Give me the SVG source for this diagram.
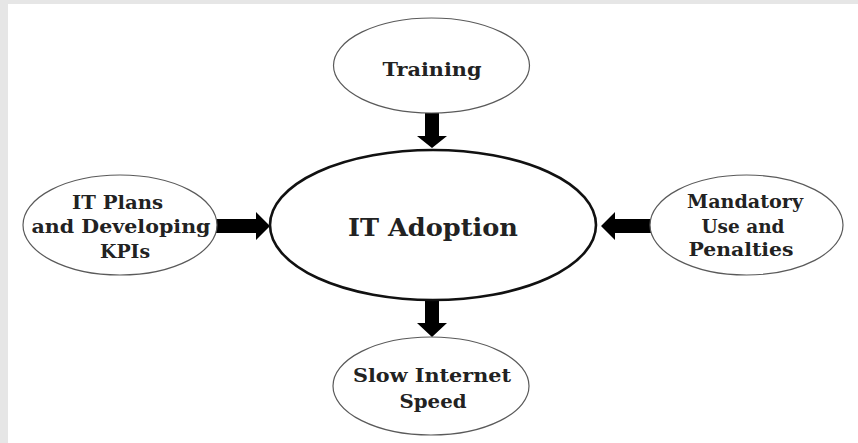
<svg xmlns="http://www.w3.org/2000/svg" width="858" height="443" viewBox="0 0 858 443">
  <style>
    .node-outer { fill: #ffffff; stroke: #5a5a5a; stroke-width: 1.2; }
    .node-main { fill: #ffffff; stroke: #111111; stroke-width: 2.6; }
    .label { font-family: "DejaVu Serif", "Liberation Serif", serif; font-weight: bold; fill: #222222; text-anchor: middle; }
    .small { font-size: 19px; }
    .big { font-size: 25px; }
    .arrow { fill: #000000; }
  </style>

  <!-- page frame -->
  <rect x="0" y="0" width="858" height="443" fill="#e6e6e6"/>
  <rect x="8" y="4" width="850" height="439" fill="#ffffff"/>

  <!-- block arrows -->
  <g id="connectors">
    <polygon class="arrow" points="425,113 439,113 439,136 447,136 432,148 417,136 425,136"/>
    <polygon class="arrow" points="216,219 256,219 256,212 270,226 256,240 256,233 216,233"/>
    <polygon class="arrow" points="651,219 615,219 615,212 601,226 615,240 615,233 651,233"/>
    <polygon class="arrow" points="425,300 439,300 439,323 447,323 432,337 417,323 425,323"/>
  </g>

  <g id="training">
    <ellipse class="node-outer" cx="431.5" cy="65.5" rx="98" ry="47.5"/>
    <text class="label small" x="432" y="76" textLength="99" lengthAdjust="spacingAndGlyphs">Training</text>
  </g>

  <g id="it-adoption">
    <ellipse class="node-main" cx="433" cy="225" rx="163" ry="75"/>
    <text class="label big" x="433" y="236" textLength="170" lengthAdjust="spacingAndGlyphs">IT Adoption</text>
  </g>

  <g id="it-plans">
    <ellipse class="node-outer" cx="120" cy="225" rx="97" ry="50"/>
    <text class="label small" x="117.5" y="209" textLength="91" lengthAdjust="spacingAndGlyphs">IT Plans</text>
    <text class="label small" x="121" y="233" textLength="179" lengthAdjust="spacingAndGlyphs">and Developing</text>
    <text class="label small" x="125" y="258" textLength="50" lengthAdjust="spacingAndGlyphs">KPIs</text>
  </g>

  <g id="mandatory-use">
    <ellipse class="node-outer" cx="746.5" cy="225" rx="96.5" ry="50"/>
    <text class="label small" x="745" y="208" textLength="116" lengthAdjust="spacingAndGlyphs">Mandatory</text>
    <text class="label small" x="743" y="233" textLength="83" lengthAdjust="spacingAndGlyphs">Use and</text>
    <text class="label small" x="741" y="256" textLength="105" lengthAdjust="spacingAndGlyphs">Penalties</text>
  </g>

  <g id="slow-internet">
    <ellipse class="node-outer" cx="431" cy="386" rx="98" ry="49"/>
    <text class="label small" x="432" y="382" textLength="158" lengthAdjust="spacingAndGlyphs">Slow Internet</text>
    <text class="label small" x="433" y="408" textLength="67" lengthAdjust="spacingAndGlyphs">Speed</text>
  </g>
</svg>
